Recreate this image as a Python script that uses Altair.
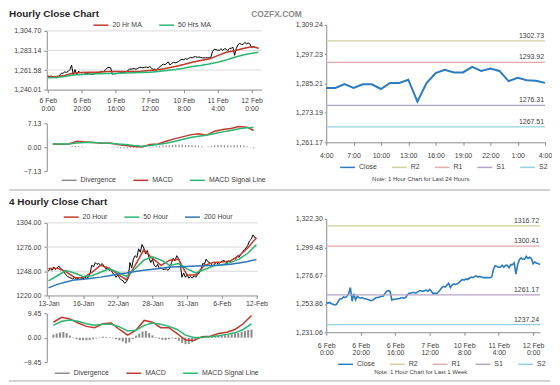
import altair as alt
import pandas as pd

# ---------------- data ----------------
hourly_tick_days = ["6 Feb", "6 Feb", "6 Feb", "7 Feb", "10 Feb", "11 Feb", "12 Feb"]
hourly_tick_times = ["0:00", "20:00", "16:00", "12:00", "8:00", "4:00", "0:00"]
day_tick_labels = ["4:00", "7:00", "10:00", "13:00", "16:00", "19:00", "22:00", "1:00", "4:00"]
four_tick_labels = ["13-Jan", "16-Jan", "22-Jan", "28-Jan", "31-Jan", "6-Feb", "12-Feb"]

# hourly close, last week (first 100 hours) + last 24 hours
close_week_head = [
    1255, 1254.5, 1255, 1254, 1253.5, 1253, 1253.5, 1256, 1258, 1258,
    1259.5, 1259, 1260, 1262, 1267, 1256, 1262, 1257, 1260, 1259,
    1258.5, 1259, 1258, 1258, 1257.5, 1257, 1256.5, 1257, 1258, 1259,
    1259, 1259.5, 1260, 1260, 1262, 1264, 1264.5, 1264, 1257, 1257.5,
    1257.5, 1258, 1258, 1258.5, 1259, 1258.5, 1259, 1261, 1262.5, 1262.5,
    1263, 1263, 1262.5, 1263.5, 1264.5, 1264.5, 1264, 1264.5, 1265, 1264,
    1265.5, 1264, 1262, 1262.5, 1262, 1263.5, 1265, 1267, 1268, 1267.5,
    1269, 1270.5, 1267, 1269, 1270, 1269.5, 1270, 1271, 1272.5, 1273.5,
    1273, 1274, 1273.5, 1274.5, 1275.5, 1275, 1276, 1276.5, 1275.5, 1276,
    1275.5, 1275, 1275, 1275, 1275, 1275, 1275.5, 1282, 1284.5, 1284,
]
close_24h = [
    1283.4, 1283.4, 1285.0, 1283.4, 1284.9, 1284.9, 1283.0, 1285.5, 1285.5, 1286.8,
    1277.8, 1285.4, 1289.5, 1290.9, 1289.8, 1289.8, 1292.1, 1290.4, 1291.4, 1290.4,
    1286.2, 1287.6, 1286.6, 1286.4, 1285.5,
]
close_week = close_week_head + close_24h

ma_idx_hourly = list(range(0, 121, 5)) + [124]
ma20_hourly = [1253.8, 1254.5, 1255.6, 1258.2, 1258.9, 1259.2, 1259.2, 1260.0, 1260.0, 1260.0,
               1260.0, 1260.3, 1261.1, 1261.8, 1263.6, 1265.4, 1267.6, 1270.2, 1272.0, 1273.8,
               1277.4, 1281.1, 1282.9, 1285.4, 1287.2, 1285.8]
ma50_hourly = [1253.1, 1253.4, 1254.5, 1256.0, 1256.7, 1257.1, 1257.4, 1257.8, 1257.8, 1258.2,
               1258.5, 1258.9, 1259.2, 1260.0, 1261.1, 1262.2, 1263.6, 1265.4, 1266.5, 1268.3,
               1270.2, 1272.7, 1275.6, 1278.2, 1280.0, 1281.1]
macd_hourly = [1.0, 0.9, 1.0, 1.8, 1.6, 1.4, 1.2, 1.3, 0.8, 0.5, 0.2, 0.1, 0.8, 1.0, 1.8,
               2.5, 3.1, 3.7, 4.0, 3.6, 4.8, 5.3, 5.6, 6.2, 6.0, 5.0]
signal_hourly = [1.0, 0.95, 0.95, 1.3, 1.4, 1.4, 1.3, 1.2, 1.0, 0.8, 0.5, 0.3, 0.5, 0.8, 1.2,
                 1.7, 2.3, 2.9, 3.3, 3.6, 4.1, 4.6, 5.0, 5.5, 5.8, 5.9]
div_idx_hourly = list(range(0, 125, 2))
div_hourly = [0.0, 0.0, 0.0, 0.0, 0.1, 0.1, 0.3, 0.4, 0.3, 0.2, 0.1, 0.0,
              0.0, -0.1, -0.1, -0.1, 0.0, 0.1, 0.1, 0.0, -0.2, -0.3, -0.3, -0.3,
              -0.3, -0.2, -0.2, -0.1, -0.1, 0.1, 0.2, 0.2, 0.3, 0.4, 0.5, 0.5,
              0.6, 0.7, 0.8, 0.8, 0.8, 0.7, 0.7, 0.7, 0.6, 0.5, 0.3, 0.1,
              0.2, 0.4, 0.6, 0.7, 0.7, 0.6, 0.6, 0.5, 0.6, 0.6, 0.6, 0.5,
              0.3, 0.1, -0.3]

level_names = ["R2", "R1", "S1", "S2"]
levels_24h_values = [1302.73, 1293.92, 1276.31, 1267.51]
levels_week_values = [1316.72, 1300.41, 1261.17, 1237.24]

# 4-hourly
close_4h = [
    1248, 1252, 1249, 1253, 1250, 1252, 1254, 1251, 1250, 1247,
    1244, 1242, 1241, 1240, 1239, 1241, 1239, 1240, 1238, 1240,
    1239, 1241, 1240, 1241, 1246, 1255, 1253, 1258, 1256, 1257,
    1255, 1257, 1254, 1251, 1252, 1249, 1250, 1246, 1244, 1241,
    1244, 1240, 1238, 1237, 1234, 1236, 1240, 1258, 1252, 1262,
    1266, 1264, 1274, 1270, 1279, 1275, 1268, 1272, 1264, 1258,
    1262, 1255, 1253, 1256, 1251, 1252, 1250, 1250, 1251, 1249,
    1252, 1258, 1263, 1260, 1266, 1263, 1258, 1241, 1246, 1241,
    1244, 1240, 1242, 1240, 1243, 1241, 1244, 1246, 1250, 1257,
    1256, 1262, 1259, 1258, 1256, 1254, 1257, 1258, 1256, 1258,
    1259, 1261, 1259, 1258, 1260, 1259, 1261, 1263, 1262, 1266,
    1264, 1268, 1270, 1273, 1275, 1278, 1283, 1285, 1290, 1287,
    1286,
]
ma_idx_4h = list(range(0, 121, 5))
ma20_4h = [1250.8, 1251.6, 1247.6, 1240.8, 1240.4, 1246.8, 1254.8, 1251.6, 1244.8, 1238.0,
           1254.8, 1272.8, 1262.8, 1254.8, 1260.8, 1262.0, 1243.6, 1243.6, 1254.8, 1258.0,
           1258.8, 1260.0, 1266.0, 1274.8, 1286.8]
ma50_4h = [1236.8, 1242.8, 1248.8, 1246.0, 1242.0, 1242.8, 1246.8, 1250.8, 1246.8, 1242.0,
           1250.8, 1260.8, 1264.8, 1260.8, 1254.8, 1256.8, 1250.8, 1246.0, 1250.0, 1254.0,
           1255.6, 1258.0, 1262.0, 1268.8, 1278.8]
ma200_4h = [1228.8, 1232.8, 1235.6, 1238.0, 1238.8, 1240.0, 1241.2, 1242.8, 1244.8, 1246.0,
            1247.6, 1249.2, 1250.4, 1251.6, 1252.8, 1253.2, 1253.6, 1254.0, 1254.4, 1254.8,
            1255.2, 1256.0, 1257.6, 1259.2, 1261.6]
macd_4h = [6.0, 7.9, 7.3, 5.7, 4.4, 3.9, 5.4, 5.7, 3.2, 1.0, 2.9, 6.7, 6.0, 3.9, 3.9,
           1.6, -0.9, -1.1, 0.4, 0.6, 1.6, 2.1, 3.2, 5.4, 8.6]
signal_4h = [4.8, 6.4, 6.9, 6.4, 5.4, 4.8, 5.2, 5.2, 4.2, 2.6, 2.9, 4.8, 5.7, 5.2, 4.4,
             3.2, 1.0, 0.1, 0.1, 0.4, 0.8, 1.3, 1.9, 3.2, 5.4]
div_idx_4h = list(range(0, 121, 2))
div_4h = [1.2, 1.6, 2.0, 2.2, 1.8, 0.8,
          -0.2, -0.6, -0.9, -1.0, -1.0, -0.9,
          -0.6, -0.3, 0.2, 0.4, 0.3, 0.2,
          -0.2, -0.6, -1.0, -1.5, -2.2, -1.8,
          -0.5, 0.8, 1.6, 2.4, 2.6, 1.8,
          0.9, 0.2, -0.4, -0.8, -0.9, -0.6,
          -0.3, -0.5, -1.2, -2.0, -2.5, -2.4,
          -1.8, -1.0, -0.3, 0.2, 0.3, 0.3,
          0.5, 0.6, 0.8, 0.9, 1.0, 1.2,
          1.4, 1.6, 1.9, 2.2, 2.6, 3.0,
          3.2]

# ---------------- style ----------------
FONT = "Liberation Sans"
LABEL = "#404040"
AXLINE = "#8c8c8c"
GRID = "#d9d9d9"
RED = "#c0392b"
GREEN = "#2bb673"
BLUE200 = "#2e75b6"
CLOSE_BLUE = "#2a7bbf"
DIV_GRAY = "#8c8c8c"
LEVEL_COLORS = ["#d2cf9e", "#e3aaa9", "#b3a3c6", "#93cfe0"]

W, H = 501, 309  # whole drawing area; every panel gets its own pixel ranges


def multi_expr(lines_list, step):
    items = ",".join("[" + ",".join(f"'{p}'" for p in lines) + "]" for lines in lines_list)
    return f"[{items}][round(datum.value/{step})]"


def x_axis(values, expr, pad, axis_y, lh=8):
    return alt.Axis(values=values, labelExpr=expr, title=None, grid=False, orient="bottom",
                    offset=axis_y - H, labelFont=FONT, labelFontSize=7, labelColor=LABEL,
                    labelPadding=pad, labelLineHeight=lh, labelFlush=False,
                    labelOverlap=False, tickSize=3, tickColor=AXLINE, domainColor=AXLINE)


def y_axis(values, fmt, axis_x, tick=3, pad=3):
    return alt.Axis(values=values, format=fmt, title=None, grid=False, orient="left",
                    offset=-axis_x, labelFont=FONT, labelFontSize=7, labelColor=LABEL,
                    labelPadding=pad, tickSize=tick, tickColor=AXLINE, domainColor=AXLINE,
                    labelFlush=False, labelOverlap=False)


def legend(x, y, pad=14):
    return alt.Legend(orient="none", legendX=x, legendY=y, direction="horizontal",
                      title=None, symbolType="stroke", symbolSize=225,
                      symbolStrokeWidth=1.5, labelFont=FONT, labelFontSize=7,
                      labelColor=LABEL, columnPadding=pad, labelOffset=3)


def text_layer(txt, x, y, size=7, bold=False, color=LABEL, align="left"):
    return alt.Chart(pd.DataFrame({"t": [txt]})).mark_text(
        align=align, baseline="top", font=FONT, fontSize=size,
        fontWeight="bold" if bold else "normal", color=color
    ).encode(x=alt.value(x), y=alt.value(y), text="t:N")


def sep_line(y):
    return alt.Chart(pd.DataFrame({"a": [0]})).mark_rule(color="#a6a6a6", strokeWidth=1).encode(
        x=alt.value(-38), x2=alt.value(506), y=alt.value(y))


def long_df(idx, series_dict):
    rows = []
    for name, vals in series_dict.items():
        for i, v in zip(idx, vals):
            rows.append({"idx": i, "value": v, "series": name})
    return pd.DataFrame(rows)


def grid_layer(values, yenc, x0, x1):
    return alt.Chart(pd.DataFrame({"value": values})).mark_rule(color=GRID, strokeWidth=1).encode(
        y=yenc, x=alt.value(x0), x2=alt.value(x1))


hourly_ticks = list(range(0, 121, 20))
hourly_expr = multi_expr(list(zip(hourly_tick_days, hourly_tick_times)), 20)

# ---------------- Panel A: hourly close with MAs ----------------
sx_a = alt.Scale(domain=[-0.6, 125.9], range=[0, 216], nice=False, zero=False)
xa = alt.X("idx:Q", scale=sx_a, axis=x_axis(hourly_ticks, hourly_expr, 4, 65))
ya_ticks = [1240.01, 1261.58, 1283.14, 1304.70]
ya = alt.Y("value:Q", scale=alt.Scale(domain=[1240.01, 1304.70], range=[65, 6], nice=False, zero=False),
           axis=y_axis(ya_ticks, ",.2f", 0))
df_close_week = pd.DataFrame({"idx": list(range(len(close_week))), "value": close_week})
df_ma_h = long_df(ma_idx_hourly, {"20 Hr MA": ma20_hourly, "50 Hrs MA": ma50_hourly})
a_close = alt.Chart(df_close_week).mark_line(color="black", strokeWidth=1).encode(x=xa, y=ya)
a_ma = alt.Chart(df_ma_h).mark_line(strokeWidth=1.5).encode(
    x=xa, y=ya,
    color=alt.Color("series:N", scale=alt.Scale(domain=["20 Hr MA", "50 Hrs MA"], range=[RED, GREEN]),
                    legend=legend(46, -8.5)))
panel_a = alt.layer(grid_layer(ya_ticks[1:], ya, 0, 216), a_close, a_ma)

# ---------------- Panel B: hourly MACD ----------------
xb = alt.X("idx:Q", scale=sx_a, axis=None)
yb = alt.Y("value:Q", scale=alt.Scale(domain=[-7.13, 7.13], range=[147, 99], nice=False, zero=False),
           axis=y_axis([-7.13, 0, 7.13], ".2f", 0))
df_div_h = pd.DataFrame({"idx": div_idx_hourly, "value": div_hourly})
df_macd_h = long_df(ma_idx_hourly, {"MACD": macd_hourly, "MACD Signal Line": signal_hourly})
b_div = alt.Chart(df_div_h).mark_bar(color=DIV_GRAY, size=1.2).encode(x=xb, y=yb, y2=alt.datum(0))
b_lines = alt.Chart(df_macd_h).mark_line(strokeWidth=1.5).encode(
    x=xb, y=yb,
    color=alt.Color("series:N", scale=alt.Scale(domain=["Divergence", "MACD", "MACD Signal Line"],
                                                range=[DIV_GRAY, RED, GREEN]),
                    legend=legend(14, 147.5)))
panel_b = alt.layer(b_div, b_lines)

# ---------------- Panel C: last 24 hours ----------------
df_24h = pd.DataFrame({"idx": list(range(len(close_24h))), "value": close_24h, "series": "Close"})
df_lv24 = pd.DataFrame({"series": level_names, "value": levels_24h_values})
xc = alt.X("idx:Q", scale=alt.Scale(domain=[0, 24], range=[281, 501], nice=False, zero=False),
           axis=x_axis(list(range(0, 25, 3)), multi_expr([[t] for t in day_tick_labels], 3), 6, 118))
yc = alt.Y("value:Q", scale=alt.Scale(domain=[1261.17, 1309.24], range=[118, 0], nice=False, zero=False),
           axis=y_axis([1261.17, 1273.19, 1285.21, 1297.23, 1309.24], ",.2f", 281, tick=2, pad=2))
color_c = alt.Color("series:N", scale=alt.Scale(domain=["Close"] + level_names,
                                                range=[CLOSE_BLUE] + LEVEL_COLORS),
                    legend=legend(294, 134.5, pad=12))
c_close = alt.Chart(df_24h).mark_line(strokeWidth=2).encode(x=xc, y=yc, color=color_c)
c_rules = alt.Chart(df_lv24).mark_rule(strokeWidth=1.2).encode(
    y=yc, color=color_c, x=alt.value(281), x2=alt.value(501))
c_text = alt.Chart(df_lv24).mark_text(align="right", baseline="bottom", font=FONT, fontSize=7,
                                      color=LABEL, dy=-2).encode(
    x=alt.value(500), y=yc, text=alt.Text("value:Q", format=".2f"))
panel_c = alt.layer(c_close, c_rules, c_text)

# ---------------- Panel D: 4-hourly close with MAs ----------------
sx_d = alt.Scale(domain=[-1, 120.7], range=[0, 212], nice=False, zero=False)
xd = alt.X("idx:Q", scale=sx_d,
           axis=x_axis(list(range(0, 121, 20)), multi_expr([[t] for t in four_tick_labels], 20), 1, 272))
yd_ticks = [1220, 1248, 1276, 1304]
yd = alt.Y("value:Q", scale=alt.Scale(domain=[1220, 1304], range=[272, 199], nice=False, zero=False),
           axis=y_axis(yd_ticks, ".2f", 0))
df_close_4h = pd.DataFrame({"idx": list(range(len(close_4h))), "value": close_4h})
df_ma_4h = long_df(ma_idx_4h, {"20 Hour": ma20_4h, "50 Hour": ma50_4h, "200 Hour": ma200_4h})
d_close = alt.Chart(df_close_4h).mark_line(color="black", strokeWidth=1).encode(x=xd, y=yd)
d_ma = alt.Chart(df_ma_4h).mark_line(strokeWidth=1.5).encode(
    x=xd, y=yd,
    color=alt.Color("series:N", scale=alt.Scale(domain=["20 Hour", "50 Hour", "200 Hour"],
                                                range=[RED, GREEN, BLUE200]),
                    legend=legend(16, 184.5)))
panel_d = alt.layer(grid_layer(yd_ticks[1:], yd, 0, 212), d_close, d_ma)

# ---------------- Panel E: 4-hourly MACD ----------------
xe = alt.X("idx:Q", scale=sx_d, axis=None)
ye = alt.Y("value:Q", scale=alt.Scale(domain=[-9.45, 9.45], range=[339, 290], nice=False, zero=False),
           axis=y_axis([-9.45, 0, 9.45], ".2f", 0))
df_div_4h = pd.DataFrame({"idx": div_idx_4h, "value": div_4h})
df_macd_4h = long_df(ma_idx_4h, {"MACD": macd_4h, "MACD Signal Line": signal_4h})
e_div = alt.Chart(df_div_4h).mark_bar(color=DIV_GRAY, size=2).encode(x=xe, y=ye, y2=alt.datum(0))
e_lines = alt.Chart(df_macd_4h).mark_line(strokeWidth=1.5).encode(
    x=xe, y=ye,
    color=alt.Color("series:N", scale=alt.Scale(domain=["Divergence", "MACD", "MACD Signal Line"],
                                                range=[DIV_GRAY, RED, GREEN]),
                    legend=legend(7, 341.5)))
panel_e = alt.layer(e_div, e_lines)

# ---------------- Panel F: last week hourly ----------------
df_week = pd.DataFrame({"idx": list(range(len(close_week))), "value": close_week, "series": "Close"})
df_lvw = pd.DataFrame({"series": level_names, "value": levels_week_values})
xf = alt.X("idx:Q", scale=alt.Scale(domain=[0, 124], range=[281, 496], nice=False, zero=False),
           axis=x_axis(hourly_ticks, hourly_expr, 6, 309, lh=7.6))
yf = alt.Y("value:Q", scale=alt.Scale(domain=[1231.06, 1322.30], range=[309, 195], nice=False, zero=False),
           axis=y_axis([1231.06, 1253.86, 1276.67, 1299.48, 1322.30], ",.2f", 281, tick=2, pad=2))
color_f = alt.Color("series:N", scale=alt.Scale(domain=["Close"] + level_names,
                                                range=[CLOSE_BLUE] + LEVEL_COLORS),
                    legend=legend(292, 332.5, pad=12))
f_close = alt.Chart(df_week).mark_line(strokeWidth=1.6).encode(x=xf, y=yf, color=color_f)
f_rules = alt.Chart(df_lvw).mark_rule(strokeWidth=1.2).encode(
    y=yf, color=color_f, x=alt.value(281), x2=alt.value(496))
f_text = alt.Chart(df_lvw).mark_text(align="right", baseline="bottom", font=FONT, fontSize=7,
                                     color=LABEL, dy=-2).encode(
    x=alt.value(495), y=yf, text=alt.Text("value:Q", format=".2f"))
panel_f = alt.layer(f_close, f_rules, f_text)

# ---------------- decorations ----------------
decor = alt.layer(
    text_layer("Hourly Close Chart", -38, -16, size=10, bold=True, color="#262626"),
    text_layer("COZFX.COM", 231, -15, size=8.5, bold=True, color="#8a8a8a", align="center"),
    text_layer("4 Hourly Close Chart", -38, 173, size=10, bold=True, color="#262626"),
    text_layer("Note: 1 Hour Chart for Last 24 Hours", 376, 152, size=6, align="center"),
    text_layer("Note: 1 Hour Chart for Last 1 Week", 376, 346, size=6, align="center"),
    sep_line(166),
    sep_line(358),
)

chart = alt.layer(panel_a, panel_b, panel_c, panel_d, panel_e, panel_f, decor).resolve_scale(
    x="independent", y="independent", color="independent"
).resolve_axis(x="independent", y="independent").resolve_legend(color="independent").properties(
    width=W, height=H, padding=0
).configure_view(stroke=None)

chart.save("out.html", embed_options={"renderer": "svg", "actions": False})
